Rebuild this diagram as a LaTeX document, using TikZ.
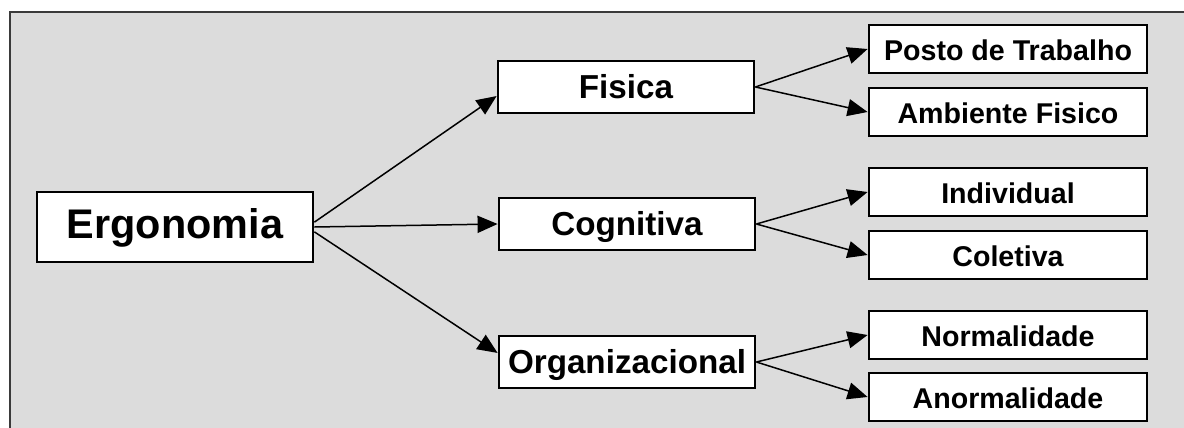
\documentclass[tikz,border=0pt]{standalone}
\usepackage{fontspec}
\setmainfont{Liberation Sans}
\usepackage{xcolor}
\usepackage{tikz}
\usetikzlibrary{arrows.meta}

\definecolor{fundo}{HTML}{DCDCDC}
\definecolor{moldura}{HTML}{3A3A3A}

\tikzset{
	caixa/.style={draw,fill=white,line width=1.4pt,inner sep=0pt,
		text height=1.15em,text depth=0pt},
	raiz/.style={caixa,minimum width=138pt,minimum height=35pt,
		font=\bfseries\fontsize{20.7}{24}\selectfont},
	ramo/.style={caixa,minimum width=128pt,minimum height=26pt,
		font=\bfseries\fontsize{16.6}{20}\selectfont},
	folha/.style={caixa,minimum width=139pt,minimum height=24pt,
		font=\bfseries\fontsize{14.3}{17}\selectfont},
	seta/.style={-{Triangle[length=10pt,width=8.5pt]},line width=0.75pt}
}

\begin{document}
\begin{tikzpicture}[x=0.5pt,y=-0.5pt]
	\useasboundingbox (0,0) rectangle (1184,428);
	% moldura cinza
	\fill[fundo] (10,12) rectangle (1184,428);
	\draw[moldura,line width=1.2pt] (10,428) -- (10,12) -- (1184,12);

	\node[raiz] (erg) at (175,227) {Ergonomia};

	\node[ramo] (fis) at (626,87) {Fisica};
	\node[ramo] (cog) at (627,224) {Cognitiva};
	\node[ramo] (org) at (627,362) {Organizacional};

	\node[folha] (pt) at (1008,49) {Posto de Trabalho};
	\node[folha] (af) at (1008,112) {Ambiente Fisico};
	\node[folha] (ind) at (1008,192) {Individual};
	\node[folha] (col) at (1008,255) {Coletiva};
	\node[folha] (nor) at (1008,335) {Normalidade};
	\node[folha] (anor) at (1008,397) {Anormalidade};

	\draw[seta] (erg.2) -- (fis.184);
	\draw[seta] (erg.east) -- (cog.west);
	\draw[seta] (erg.358) -- (org.176);

	\foreach \a/\b in {fis/pt,fis/af,cog/ind,cog/col,org/nor,org/anor}
		\draw[seta] (\a.east) -- (\b.west);
\end{tikzpicture}
\end{document}
